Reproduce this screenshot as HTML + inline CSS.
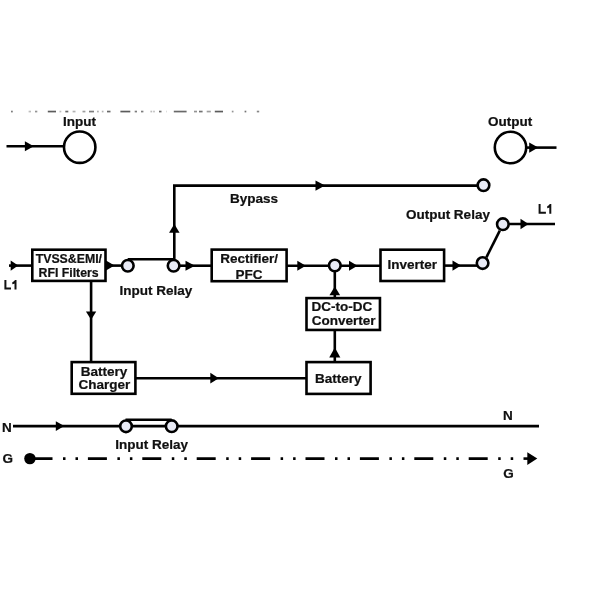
<!DOCTYPE html>
<html><head><meta charset="utf-8">
<style>
html,body{margin:0;padding:0;background:#fff;width:600px;height:600px;overflow:hidden}
svg{display:block;will-change:transform}
text{font-family:"Liberation Sans",sans-serif;font-weight:bold;fill:#111;stroke:#111;stroke-width:0.22px}
</style></head><body>
<svg width="600" height="600" viewBox="0 0 600 600">
<g fill="none" stroke="#000" stroke-width="2.6">
<line x1="6.5" y1="146.3" x2="66" y2="146.3"/>
<circle cx="79.7" cy="147.2" r="15.7" fill="#fff" stroke-width="2.6"/>
<line x1="525" y1="147.6" x2="556.5" y2="147.6"/>
<circle cx="510.5" cy="147.5" r="15.7" fill="#fff" stroke-width="2.6"/>
<polyline points="174.3,262 174.3,185.6 478,185.6"/>
<line x1="9" y1="265.6" x2="32" y2="265.6"/>
<line x1="105" y1="265.6" x2="122" y2="265.6"/>
<path d="M127.8,259.25 H173.6"/>
<line x1="180" y1="265.7" x2="212" y2="265.7"/>
<line x1="287" y1="265.7" x2="330" y2="265.7"/>
<line x1="340" y1="265.7" x2="380" y2="265.7"/>
<line x1="445" y1="265.6" x2="477" y2="265.6"/>
<line x1="486.4" y1="257.3" x2="499.8" y2="230.6"/>
<line x1="509" y1="224" x2="555" y2="224"/>
<rect x="32.30" y="249.70" width="73.20" height="31.20" fill="#fff"/>
<rect x="211.70" y="249.60" width="74.90" height="31.60" fill="#fff"/>
<rect x="380.50" y="249.70" width="63.60" height="31.30" fill="#fff"/>
<rect x="306.50" y="298.10" width="73.45" height="31.85" fill="#fff"/>
<rect x="306.50" y="362.10" width="64.10" height="31.80" fill="#fff"/>
<rect x="71.70" y="362.10" width="63.70" height="31.70" fill="#fff"/>
<line x1="91.1" y1="282" x2="91.1" y2="361"/>
<line x1="334.8" y1="272" x2="334.8" y2="297"/>
<line x1="334.8" y1="330" x2="334.8" y2="361"/>
<line x1="136" y1="378.2" x2="306" y2="378.2"/>
<line x1="13" y1="426.1" x2="539" y2="426.1"/>
<path d="M125.5,419.8 H171.7"/>
<line x1="33.5" y1="458.6" x2="520" y2="458.6" stroke-dasharray="19 10.5 2.5 10 2.5 9.9"/>
<line x1="523.5" y1="458.6" x2="530" y2="458.6"/>
</g>
<g fill="#e8eaf5" stroke="#000" stroke-width="2.6">
<circle cx="483.5" cy="185.2" r="5.8"/>
<circle cx="502.85" cy="224.2" r="5.8"/>
<circle cx="482.6" cy="263.1" r="5.8"/>
<circle cx="127.8" cy="265.75" r="5.8"/>
<circle cx="173.6" cy="265.75" r="5.8"/>
<circle cx="334.8" cy="265.5" r="5.8"/>
<circle cx="126.0" cy="426.3" r="5.8"/>
<circle cx="171.7" cy="426.2" r="5.8"/>
</g>
<g fill="#000">
<circle cx="29.9" cy="458.6" r="5.7"/>
<polygon points="24.90,141.26 33.70,146.30 24.90,151.34"/>
<polygon points="529.20,142.56 538.20,147.60 529.20,152.64"/>
<polygon points="169.05,232.70 174.30,224.00 179.55,232.70"/>
<polygon points="315.50,180.56 325.00,185.60 315.50,190.64"/>
<polygon points="520.50,218.75 528.50,224.00 520.50,229.25"/>
<polygon points="10.70,260.56 18.20,265.60 10.70,270.64"/>
<polygon points="106.00,260.46 114.50,265.50 106.00,270.54"/>
<polygon points="185.50,260.66 195.00,265.70 185.50,270.74"/>
<polygon points="297.30,260.66 305.80,265.70 297.30,270.74"/>
<polygon points="349.00,260.66 357.50,265.70 349.00,270.74"/>
<polygon points="452.50,260.56 461.00,265.60 452.50,270.64"/>
<polygon points="85.95,311.50 91.10,319.80 96.24,311.50"/>
<polygon points="329.44,295.20 334.80,286.50 340.16,295.20"/>
<polygon points="329.24,357.40 334.80,347.60 340.37,357.40"/>
<polygon points="210.30,372.84 218.80,378.20 210.30,383.56"/>
<polygon points="55.80,421.17 64.30,426.10 55.80,431.04"/>
<polygon points="527.30,452.30 537.30,458.60 527.30,464.90"/>
</g>
<g fill="#000">
<rect x="11" y="110.7" width="1.8" height="1.7" fill-opacity="0.51"/>
<rect x="28.6" y="110.7" width="2.4" height="1.7" fill-opacity="0.26"/>
<rect x="35" y="110.7" width="2.3" height="1.7" fill-opacity="0.42"/>
<rect x="47.8" y="110.7" width="8.2" height="1.7" fill-opacity="0.64"/>
<rect x="59.5" y="110.7" width="1.8" height="1.7" fill-opacity="0.26"/>
<rect x="65.3" y="110.7" width="3.0" height="1.7" fill-opacity="0.59"/>
<rect x="72.6" y="110.7" width="2.9" height="1.7" fill-opacity="0.30"/>
<rect x="82.5" y="110.7" width="2.9" height="1.7" fill-opacity="0.38"/>
<rect x="89" y="110.7" width="5.0" height="1.7" fill-opacity="0.51"/>
<rect x="97" y="110.7" width="1.8" height="1.7" fill-opacity="0.30"/>
<rect x="101.8" y="110.7" width="1.7" height="1.7" fill-opacity="0.30"/>
<rect x="107" y="110.7" width="3.5" height="1.7" fill-opacity="0.59"/>
<rect x="120.4" y="110.7" width="9.9" height="1.7" fill-opacity="0.64"/>
<rect x="134.7" y="110.7" width="2.3" height="1.7" fill-opacity="0.51"/>
<rect x="141" y="110.7" width="2.4" height="1.7" fill-opacity="0.51"/>
<rect x="150.4" y="110.7" width="1.8" height="1.7" fill-opacity="0.26"/>
<rect x="153" y="110.7" width="2.0" height="1.7" fill-opacity="0.21"/>
<rect x="159" y="110.7" width="2.5" height="1.7" fill-opacity="0.59"/>
<rect x="166" y="110.7" width="1.0" height="1.7" fill-opacity="0.13"/>
<rect x="173.8" y="110.7" width="12.8" height="1.7" fill-opacity="0.59"/>
<rect x="194" y="110.7" width="3.0" height="1.7" fill-opacity="0.42"/>
<rect x="199" y="110.7" width="3.6" height="1.7" fill-opacity="0.55"/>
<rect x="206.7" y="110.7" width="4.1" height="1.7" fill-opacity="0.38"/>
<rect x="214.8" y="110.7" width="8.2" height="1.7" fill-opacity="0.64"/>
<rect x="231.8" y="110.7" width="1.7" height="1.7" fill-opacity="0.42"/>
<rect x="244.6" y="110.7" width="1.7" height="1.7" fill-opacity="0.55"/>
<rect x="256.8" y="110.7" width="2.4" height="1.7" fill-opacity="0.47"/>
</g>
<text x="62.9" y="125.7" style="font-size:13.50px">Input</text>
<text x="488.0" y="126.0" style="font-size:13.50px">Output</text>
<text x="230.0" y="202.7" style="font-size:13.50px">Bypass</text>
<text x="405.9" y="218.7" style="font-size:13.50px">Output Relay</text>
<text x="35.7" y="262.8" style="font-size:12.30px">TVSS&amp;EMI/</text>
<text x="38.5" y="276.7" style="font-size:12.30px">RFI Filters</text>
<text x="119.6" y="294.7" style="font-size:13.50px">Input Relay</text>
<text x="220.2" y="262.6" style="font-size:13.50px">Rectifier/</text>
<text x="235.6" y="279.0" style="font-size:13.50px">PFC</text>
<text x="387.6" y="269.0" style="font-size:13.50px">Inverter</text>
<text x="311.6" y="311.3" style="font-size:13.50px">DC-to-DC</text>
<text x="311.8" y="324.7" style="font-size:13.50px">Converter</text>
<text x="315.1" y="383.0" style="font-size:13.50px">Battery</text>
<text x="80.8" y="375.6" style="font-size:13.50px">Battery</text>
<text x="78.4" y="389.0" style="font-size:13.50px">Charger</text>
<text x="2.0" y="431.7" style="font-size:13.50px">N</text>
<text x="2.4" y="462.5" style="font-size:13.50px">G</text>
<text x="502.9" y="420.0" style="font-size:13.50px">N</text>
<text x="503.2" y="478.3" style="font-size:13.50px">G</text>
<text x="115.2" y="449.2" style="font-size:13.50px">Input Relay</text>

<path d="M538.60,204.00 h2.00 V211.75 H545.90 V213.75 H538.60 Z M551.30,204.00 V213.75 H549.30 V207.40 Q548.40,208.00 547.20,208.30 V206.30 Q549.10,205.50 549.80,204.00 Z" fill="#111"/>
<path d="M4.40,280.00 h2.00 V287.60 H11.00 V289.60 H4.40 Z M16.50,280.00 V289.60 H14.50 V283.40 Q13.60,284.00 12.30,284.30 V282.30 Q14.30,281.50 15.00,280.00 Z" fill="#111"/>
</svg>
</body></html>
